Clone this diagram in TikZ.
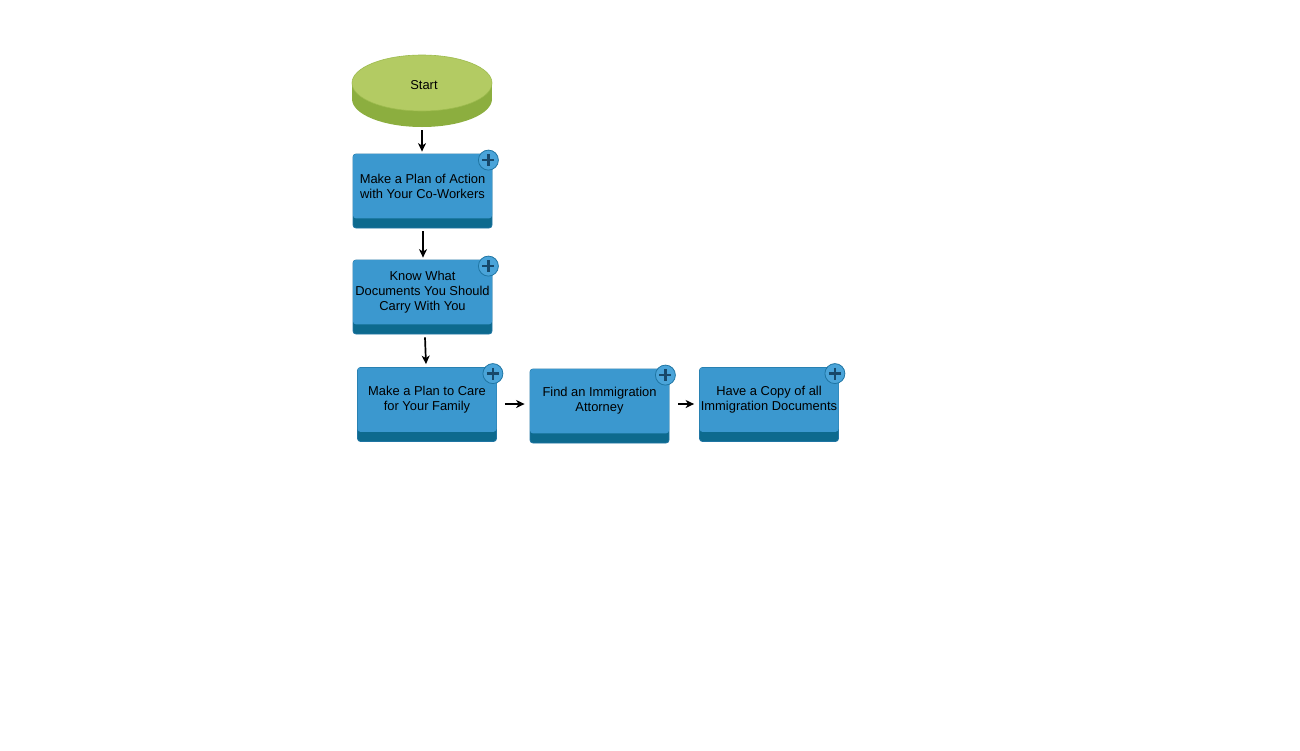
\documentclass[tikz,border=0pt]{standalone}
\usepackage{fontspec}
\setmainfont{Liberation Sans}
\usetikzlibrary{shapes.geometric,arrows.meta,calc}
\definecolor{boxface}{HTML}{3B98CF}
\definecolor{boxdark}{HTML}{0D6A8E}
\definecolor{boxline}{HTML}{1F75A3}
\definecolor{startface}{HTML}{B3CB63}
\definecolor{startdark}{HTML}{8CAE3F}
\definecolor{startline}{HTML}{9DBB4E}
\definecolor{plusfill}{HTML}{4AA4D9}
\definecolor{plusdark}{HTML}{17486A}
\newcommand{\stepnode}[3]{%
 \node[stepbox] (#1) at (#2) {};
 \fill[stepface] ($(#1.north west)+(0.4,0.4)$) rectangle ($(#1.south east)+(-0.4,-10)$);
 \node[steptext] (#1t) at ($(#1.center)+(0,-5)$) {#3};
 \node[plusbtn] (#1p) at ($(#1.north east)+(-4,6.5)$) {};
 \draw[plussign] ($(#1p)+(-6,0)$) -- ($(#1p)+(6,0)$);
 \draw[plussign] ($(#1p)+(0,-6)$) -- ($(#1p)+(0,6)$);
}
\begin{document}
\begin{tikzpicture}[x=1pt,y=-1pt,
 stepbox/.style={rectangle,rounded corners=3pt,minimum width=139pt,minimum height=74pt,inner sep=0pt,fill=boxdark,draw=boxline,line width=0.8pt},
 stepface/.style={boxface,rounded corners=3pt},
 steptext/.style={align=center,font=\fontsize{12.9}{15}\selectfont,inner sep=0pt},
 plusbtn/.style={circle,minimum size=20pt,inner sep=0pt,fill=plusfill,draw=boxline,line width=0.8pt},
 plussign/.style={plusdark,line width=2.6pt},
 flow/.style={-{Stealth[length=8.5pt,width=8pt,inset=2.5pt]},line width=1.7pt,black}]
\useasboundingbox (0,0) rectangle (1300,750);
% start
\fill[startdark] (422,99) ellipse [x radius=70, y radius=28];
\fill[startdark] (352,83) rectangle (492,99);
\node[ellipse,minimum width=140pt,minimum height=56pt,inner sep=0pt,fill=startface,draw=startline,line width=0.6pt] (start) at (422,83) {};
\node[font=\fontsize{12.9}{15}\selectfont,inner sep=0pt] (startt) at ($(start.center)+(2,2)$) {Start};
% boxes
\stepnode{b1}{422.5,191}{Make a Plan of Action\\with Your Co-Workers}
\stepnode{b2}{422.5,297}{Know What\\Documents You Should\\Carry With You}
\stepnode{b3}{427,404.5}{Make a Plan to Care\\for Your Family}
\stepnode{b4}{599.5,406}{Find an Immigration\\Attorney}
\stepnode{b5}{769,404.5}{Have a Copy of all\\Immigration Documents}
% connectors
\draw[flow] ($(start.south)+(0,19)$) -- ($(b1.north)+(-0.5,-2)$);
\draw[flow] ($(b1.south)+(0.5,3)$) -- ($(b2.north)+(0.5,-2)$);
\draw[flow] ($(b2.south)+(2.5,3)$) -- ($(b3.north)+(-1,-3)$);
\draw[flow] ($(b3.east)+(8,-0.5)$) -- ($(b4.west)+(-5,-2)$);
\draw[flow] ($(b4.east)+(9,-2)$) -- ($(b5.west)+(-5,-0.5)$);
\end{tikzpicture}
\end{document}
